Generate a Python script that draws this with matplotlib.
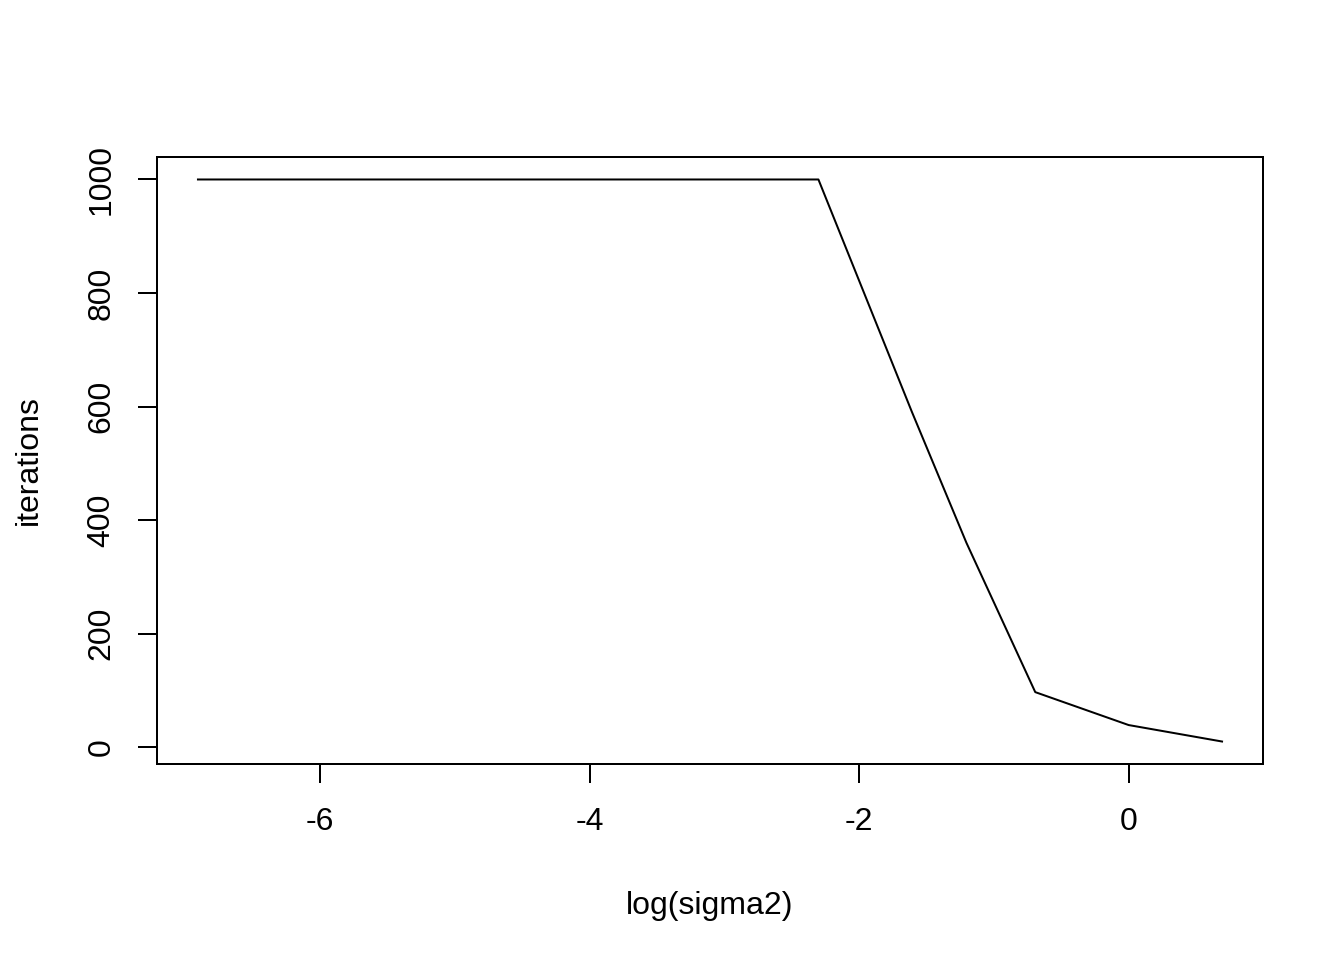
import numpy as np
import matplotlib
matplotlib.use("Agg")
import matplotlib.pyplot as plt

plt.rcParams['font.family'] = ['Liberation Sans', 'DejaVu Sans']

log_sigma2 = np.log([0.001, 0.01, 0.1, 0.2, 0.3, 0.5, 1.0, 2.0])
iterations = [1000, 1000, 1000, 591, 360, 97, 39, 10]
x_ticks = [-6, -4, -2, 0]
y_ticks = [0, 200, 400, 600, 800, 1000]

fig = plt.figure(figsize=(7, 5), dpi=192)
W, H = 1344, 960
ax = fig.add_axes([157/W, 1 - 764/H, (1263-157)/W, (764-157)/H])

ax.plot(log_sigma2, iterations, color='black', lw=0.75)

xmin, xmax = min(log_sigma2), max(log_sigma2)
dx = (xmax - xmin) * 0.04
ax.set_xlim(xmin - dx, xmax + dx)
ymin, ymax = min(iterations), max(iterations)
dy = (ymax - ymin) * 0.04
ax.set_ylim(ymin - dy, ymax + dy)

ax.set_xticks(x_ticks)
ax.set_xticklabels([str(t) for t in x_ticks])
ax.set_yticks(y_ticks)
ax.set_yticklabels([str(t) for t in y_ticks], rotation=90, va='center')

for s in ax.spines.values():
    s.set_linewidth(0.75)
ax.tick_params(direction='out', length=7.2, width=0.75, labelsize=12, pad=9)
ax.tick_params(axis='y', pad=8)

ax.set_xlabel('log(sigma2)', fontsize=12, labelpad=20)
ax.set_ylabel('iterations', fontsize=12, labelpad=16)

fig.savefig('out.png', dpi=192)
